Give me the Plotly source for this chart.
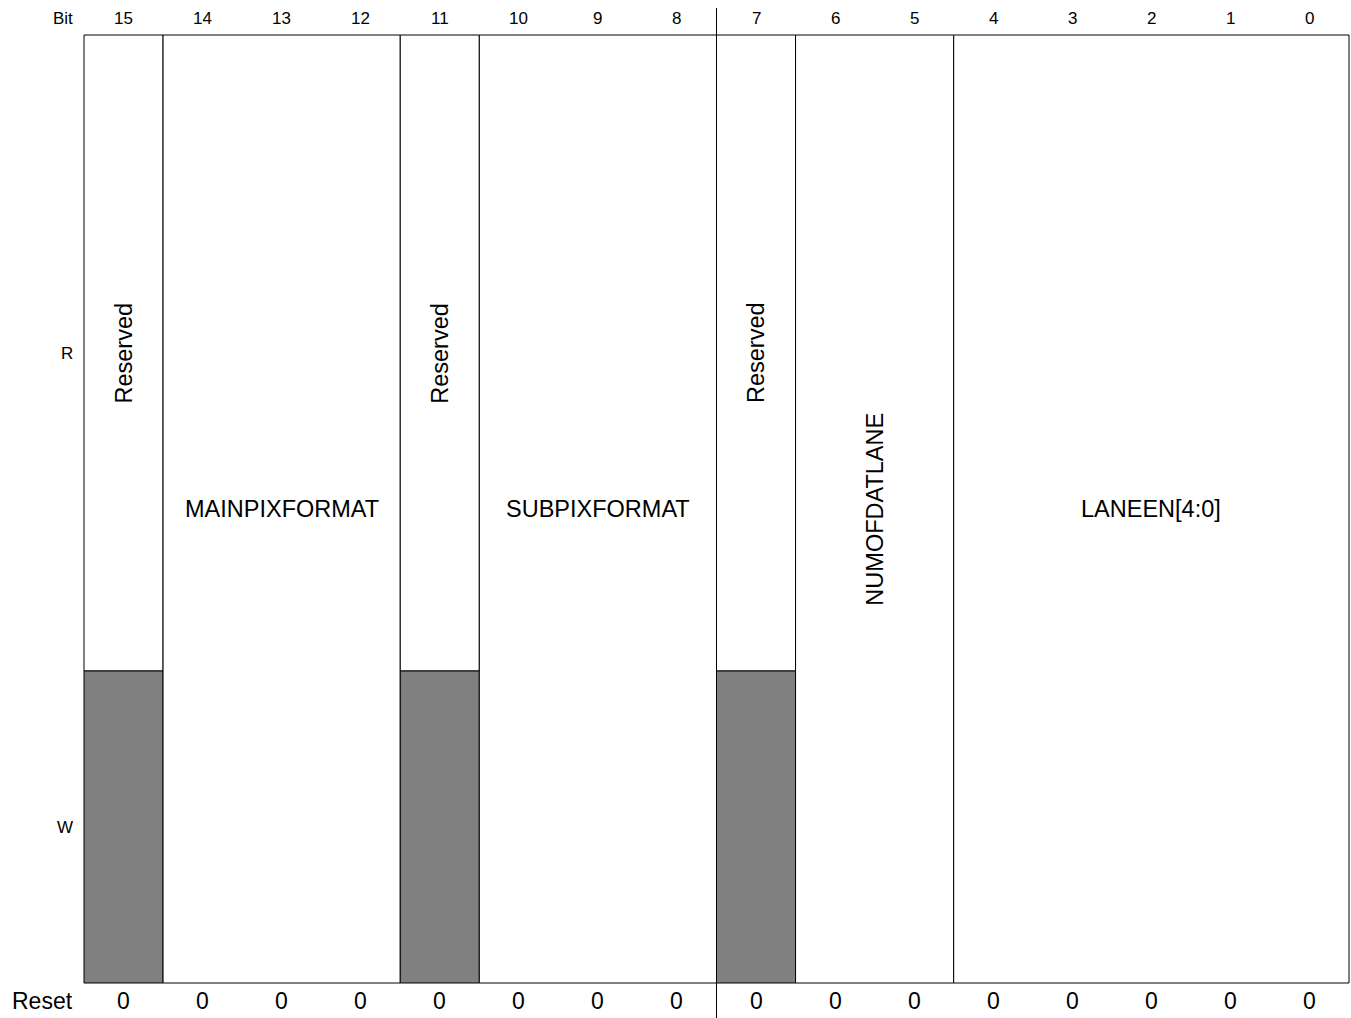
import plotly.graph_objects as go

# ---- data ----
bit_labels = [str(b) for b in range(15, -1, -1)]
field_names = ["Reserved", "MAINPIXFORMAT", "Reserved", "SUBPIXFORMAT",
               "Reserved", "NUMOFDATLANE", "LANEEN[4:0]"]
field_msb = [15, 14, 11, 10, 7, 6, 4]
field_lsb = [15, 12, 11, 8, 7, 5, 0]
field_writable = [False, True, False, True, False, True, True]
reset_values = [0] * 16
row_labels = ["Bit", "R", "W", "Reset"]

# ---- layout constants (pixels / units) ----
W, H = 1351, 1018
LEFT_PX, UNIT_PX = 84, (1349 - 84) / 16.0
TOP, MID, BOT = 35, 671, 983
FONT = "Liberation Sans, Arial, Helvetica, sans-serif"

def pos(bit):
    return 15 - bit  # left edge of a bit cell in axis units

fig = go.Figure()
shapes = []
annotations = []

for name, msb, lsb, wr in zip(field_names, field_msb, field_lsb, field_writable):
    x0, x1 = pos(msb), pos(lsb) + 1
    xc = (x0 + x1) / 2
    nbits = msb - lsb + 1
    if wr:
        shapes.append(dict(type="rect", xref="x", yref="y", x0=x0, x1=x1, y0=TOP, y1=BOT,
                           line=dict(color="black", width=1), fillcolor="white", layer="below"))
        yc = (TOP + BOT) / 2
    else:
        shapes.append(dict(type="rect", xref="x", yref="y", x0=x0, x1=x1, y0=TOP, y1=MID,
                           line=dict(color="black", width=1), fillcolor="white", layer="below"))
        shapes.append(dict(type="rect", xref="x", yref="y", x0=x0, x1=x1, y0=MID, y1=BOT,
                           line=dict(color="black", width=1), fillcolor="#808080", layer="below"))
        yc = (TOP + MID) / 2
    annotations.append(dict(x=xc, y=yc, xref="x", yref="y", text=name, showarrow=False,
                            textangle=-90 if nbits <= 2 else 0,
                            font=dict(family=FONT, size=23.5, color="black"),
                            xanchor="center", yanchor="middle"))

# middle divider between byte halves
shapes.append(dict(type="line", xref="x", yref="y", x0=8, x1=8, y0=8, y1=H,
                   line=dict(color="black", width=1)))

# bit numbers and reset values
for i, (lab, rv) in enumerate(zip(bit_labels, reset_values)):
    bit = 15 - i
    xc = pos(bit) + 0.5
    annotations.append(dict(x=xc, y=18, xref="x", yref="y", text=lab, showarrow=False,
                            font=dict(family=FONT, size=17, color="black"),
                            xanchor="center", yanchor="middle"))
    annotations.append(dict(x=xc, y=1001, xref="x", yref="y", text=str(rv), showarrow=False,
                            font=dict(family=FONT, size=23, color="black"),
                            xanchor="center", yanchor="middle"))

# row labels
label_x = (75 - LEFT_PX) / UNIT_PX
row_y = [18, (TOP + MID) / 2, (MID + BOT) / 2, 1001]
row_size = [17, 17, 17, 23]
for lab, yy, sz in zip(row_labels, row_y, row_size):
    annotations.append(dict(x=label_x, y=yy, xref="x", yref="y", text=lab, showarrow=False,
                            font=dict(family=FONT, size=sz, color="black"),
                            xanchor="right", yanchor="middle"))

fig.update_layout(
    width=W, height=H,
    margin=dict(l=0, r=0, t=0, b=0),
    paper_bgcolor="white", plot_bgcolor="white",
    showlegend=False,
    shapes=shapes, annotations=annotations,
    xaxis=dict(range=[-LEFT_PX / UNIT_PX, (W - LEFT_PX) / UNIT_PX], visible=False, fixedrange=True),
    yaxis=dict(range=[H, 0], visible=False, fixedrange=True),
)

fig.write_html("out.html",
               config={"displayModeBar": False},
               post_script="document.body.style.margin='0';document.body.style.overflow='hidden';")
